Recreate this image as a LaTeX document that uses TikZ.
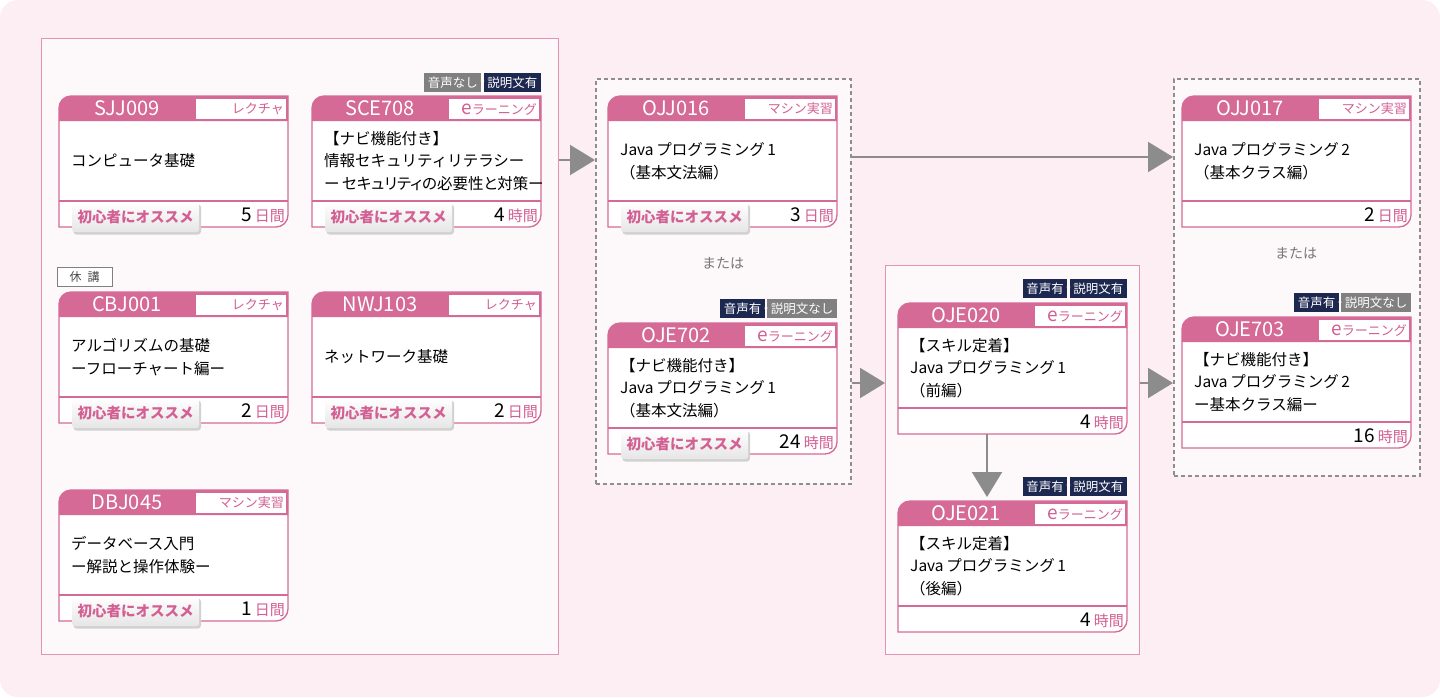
\documentclass[tikz,border=0pt]{standalone}
\usepackage{fontspec}
\setmainfont{Noto Sans CJK JP}
\newfontfamily\paltfont{Noto Sans CJK JP}[RawFeature=+palt]
\usetikzlibrary{arrows.meta,calc}
\definecolor{bgpink}{HTML}{FCEEF3}
\definecolor{contfill}{HTML}{FDF8FA}
\definecolor{contline}{HTML}{E393B5}
\definecolor{pk}{HTML}{D46A95}
\definecolor{pktext}{HTML}{D35F93}
\definecolor{navy}{HTML}{1D2850}
\definecolor{gbadge}{HTML}{808080}
\definecolor{arrowgray}{HTML}{8C8C8C}
\definecolor{dashgray}{HTML}{8E8E8E}
\definecolor{oretext}{HTML}{777777}
\tikzset{
 container/.style={draw=contline, line width=1pt, fill=contfill, inner sep=0, anchor=north west},
 dashbox/.style={draw=dashgray, line width=1.5pt, dash pattern=on 4pt off 3pt, fill=contfill, inner sep=0, anchor=north west},
 flow/.style={draw=arrowgray, line width=2pt, -{Triangle[length=25pt,width=30pt]}},
 cardframe/.style={minimum width=229pt, minimum height=131pt, inner sep=0, anchor=north west},
 codetxt/.style={text=white, font=\fontsize{20}{20}\selectfont, inner sep=0},
 typetxt/.style={text=pktext, font=\fontsize{13}{13}\selectfont, inner sep=0, anchor=east},
 bodytxt/.style={font=\fontsize{15.5}{22.5}\selectfont, align=left, anchor=west, inner sep=0},
 durtxt/.style={anchor=base east, inner sep=0, font=\fontsize{19}{19}\selectfont},
 recbadge/.style={rounded corners=3pt, top color=white, bottom color=black!10, minimum width=127pt, minimum height=30pt, text=pktext, font=\fontsize{14.5}{14.5}\selectfont\bfseries, anchor=north west, inner sep=0},
 abadge/.style={text=white, minimum height=19pt, inner xsep=3.5pt, inner ysep=0, font=\fontsize{12.5}{12.5}\selectfont},
 plus/.style={text=white, font=\fontsize{8}{8}\selectfont, inner sep=0},
 ortxt/.style={text=oretext, font=\fontsize{14}{14}\selectfont, inner sep=0},
}
\newcommand\ccard[8]{%
 \fill[white] (#2,#3+12) arc[start angle=180,end angle=270,radius=12] -- (#2+229,#3) -- (#2+229,#3+119) arc[start angle=0,end angle=90,radius=12] -- (#2,#3+131) -- cycle;
 \fill[pk] (#2,#3+12) arc[start angle=180,end angle=270,radius=12] -- (#2+229,#3) -- (#2+229,#3+25) -- (#2,#3+25) -- cycle;
 \fill[white] (#2+137,#3+2.5) rectangle (#2+227,#3+23);
 \draw[pk, line width=1.3pt] (#2,#3+105) -- (#2+229,#3+105);
 \draw[pk, line width=1.3pt] (#2,#3+12) arc[start angle=180,end angle=270,radius=12] -- (#2+229,#3) -- (#2+229,#3+119) arc[start angle=0,end angle=90,radius=12] -- (#2,#3+131) -- cycle;
 \node[cardframe] (#1) at (#2,#3) {};
 \node[codetxt] (#1-code) at (#2+68,#3+12.5) {#4};
 \node[typetxt] (#1-type) at (#2+225,#3+13) {#5};
 \node[bodytxt] (#1-body) at (#2+12,#3+65) {#6};
 \node[durtxt] (#1-dur) at (#2+226,#3+125) {#7\,{\color{pktext}\fontsize{15}{15}\selectfont #8}};
}
\newcommand\recom[3]{%
 \fill[black!18, rounded corners=3pt] (#2+14.5,#3+108.5) rectangle (#2+142,#3+138.5);
 \node[recbadge] (#1) at (#2+13,#3+106) {初心者にオススメ};
}
\newcommand\audio[7]{%
 \node[abadge, fill=#6, anchor=south east] (#1-r) at (#2,#3) {#7};
 \node[abadge, fill=#4, anchor=south east] (#1-l) at ([xshift=-2pt]#1-r.south west) {#5};
 \node[plus] (#1-p) at ($(#1-l.east)!0.5!(#1-r.west)$) {+};
}
\newcommand\elearn{{\fontsize{19}{13}\selectfont e}ラーニング}
\begin{document}
\begin{tikzpicture}[x=1pt,y=-1pt]
\useasboundingbox (0,0) rectangle (1440,697);
\fill[white] (0,0) rectangle (1440,697);
\fill[bgpink, rounded corners=18pt] (0,0) rectangle (1440,697);

% containers
\node[container, minimum width=517pt, minimum height=616pt] (cont1) at (41,38) {};
\node[dashbox, minimum width=255pt, minimum height=405pt] (box2) at (595,78) {};
\node[container, minimum width=254pt, minimum height=389pt] (cont3) at (885,265) {};
\node[dashbox, minimum width=246pt, minimum height=397pt] (box4) at (1173,78) {};

% cards
\ccard{sjj009}{59}{96}{SJJ009}{レクチャ}{コンピュータ基礎}{5}{日間}
\recom{sjj009-rec}{59}{96}
\ccard{sce708}{312}{96}{SCE708}{\elearn}{【ナビ機能付き】\\情報セキュリティリテラシー\\{\paltfont ー\,セキュリティの必要性と対策ー}}{4}{時間}
\recom{sce708-rec}{312}{96}
\audio{sce708-a}{541}{92}{gbadge}{音声なし}{navy}{説明文有}

\node[draw=black!50, fill=white, text=black!70, font=\fontsize{12}{12}\selectfont, minimum width=55pt, minimum height=19pt, inner sep=0, anchor=north west] (kyu) at (57,267) {休\hspace{6pt}講};
\ccard{cbj001}{59}{292}{CBJ001}{レクチャ}{アルゴリズムの基礎\\ーフローチャート編ー}{2}{日間}
\recom{cbj001-rec}{59}{292}
\ccard{nwj103}{312}{292}{NWJ103}{レクチャ}{ネットワーク基礎}{2}{日間}
\recom{nwj103-rec}{312}{292}
\ccard{dbj045}{59}{490}{DBJ045}{マシン実習}{データベース入門\\ー解説と操作体験ー}{1}{日間}
\recom{dbj045-rec}{59}{490}

\ccard{ojj016}{608}{96}{OJJ016}{マシン実習}{Java\,プログラミング\,1\\（基本文法編）}{3}{日間}
\recom{ojj016-rec}{608}{96}
\node[ortxt] (or1) at (723,263) {または};
\ccard{oje702}{608}{323}{OJE702}{\elearn}{【ナビ機能付き】\\Java\,プログラミング\,1\\（基本文法編）}{24}{時間}
\recom{oje702-rec}{608}{323}
\audio{oje702-a}{837}{318.5}{navy}{音声有}{gbadge}{説明文なし}

\ccard{oje020}{898}{303}{OJE020}{\elearn}{【スキル定着】\\Java\,プログラミング\,1\\（前編）}{4}{時間}
\audio{oje020-a}{1127}{298}{navy}{音声有}{navy}{説明文有}
\ccard{oje021}{898}{501}{OJE021}{\elearn}{【スキル定着】\\Java\,プログラミング\,1\\（後編）}{4}{時間}
\audio{oje021-a}{1127}{496}{navy}{音声有}{navy}{説明文有}

\ccard{ojj017}{1182}{96}{OJJ017}{マシン実習}{Java\,プログラミング\,2\\（基本クラス編）}{2}{日間}
\node[ortxt] (or2) at (1296,253) {または};
\ccard{oje703}{1182}{317}{OJE703}{\elearn}{【ナビ機能付き】\\Java\,プログラミング\,2\\ー基本クラス編ー}{16}{時間}
\audio{oje703-a}{1411}{312.5}{navy}{音声有}{gbadge}{説明文なし}

% connectors
\coordinate (r1) at (0,160);
\coordinate (r2) at (0,157);
\coordinate (r3) at (0,383);
\coordinate (r5) at (987,0);
\draw[flow] (cont1.east |- r1) -- (box2.west |- r1);
\draw[flow] (box2.east |- r2) -- (box4.west |- r2);
\draw[flow] (box2.east |- r3) -- (cont3.west |- r3);
\draw[flow] (cont3.east |- r3) -- (box4.west |- r3);
\draw[flow] (oje020.south -| r5) -- ([yshift=4pt]oje021.north -| r5);
\end{tikzpicture}
\end{document}
